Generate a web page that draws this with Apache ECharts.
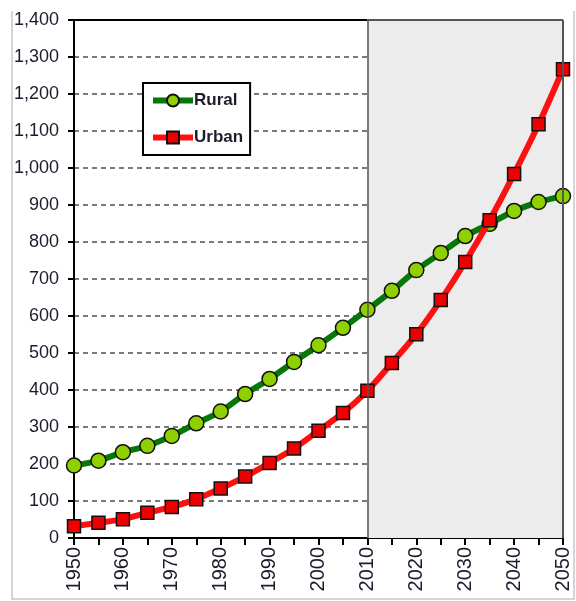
<!DOCTYPE html>
<html>
<head>
<meta charset="utf-8">
<script src="https://cdn.jsdelivr.net/npm/echarts@6/dist/echarts.min.js"></script>
<style>html,body{margin:0;padding:0;background:#fff;}#c{width:576px;height:601px;}</style>
</head>
<body>
<div id="c"></div>
<script>
const years = [1950,1955,1960,1965,1970,1975,1980,1985,1990,1995,2000,2005,2010,2015,2020,2025,2030,2035,2040,2045,2050];
const rural = [196,209,232,249,276,310,342,389,430,476,521,568,617,668,724,770,816,849,884,908,924];
const urban = [32,41,51,68,84,105,134,166,203,242,290,338,398,473,551,643,746,859,984,1118,1267];
const yTicks = [0,100,200,300,400,500,600,700,800,900,1000,1100,1200,1300,1400];
const projectionStart = 2010;
const projectionEnd = 2050;

const chart = echarts.init(document.getElementById('c'));
const font = 'Liberation Sans, Arial, sans-serif';
const txtColor = '#1c1c2c';

chart.setOption({
  animation: false,
  backgroundColor: '#fff',
  textStyle: {fontFamily: font},
  grid: {left: 74, right: 13, top: 20, bottom: 63, containLabel: false},
  legend: {
    orient: 'vertical',
    left: 143, top: 83,
    padding: [9, 7, 9, 7],
    itemGap: 20,
    itemWidth: 40, itemHeight: 15,
    backgroundColor: '#fff',
    borderColor: '#000', borderWidth: 2, borderRadius: 0,
    lineStyle: {width: 6},
    textStyle: {fontFamily: font, fontSize: 17, fontWeight: 'bold', color: txtColor, padding: [0,0,0,-4]},
    data: ['Rural', 'Urban']
  },
  xAxis: {
    type: 'value', min: 1950, max: 2050, interval: 5,
    axisLine: {show: true, lineStyle: {color: '#000', width: 2}},
    axisTick: {show: true, inside: false, length: 7, lineStyle: {color: '#000', width: 2}},
    axisLabel: {
      rotate: 90, fontSize: 20, color: txtColor, fontFamily: font, margin: 9,
      formatter: v => (v % 10 === 0 ? String(v) : '')
    },
    splitLine: {show: false}
  },
  yAxis: {
    type: 'value', min: yTicks[0], max: yTicks[yTicks.length-1], interval: 100,
    axisLine: {show: true, lineStyle: {color: '#000', width: 2}},
    axisTick: {show: true, length: 6, lineStyle: {color: '#000', width: 2}},
    axisLabel: {
      fontSize: 18, color: txtColor, fontFamily: font, margin: 15,
      formatter: v => v.toLocaleString('en-US')
    },
    splitLine: {show: true, lineStyle: {color: '#7a7a7a', width: 2, type: [5, 4]}}
  },
  series: [
    {
      name: 'shade', type: 'line', data: [], z: 0, silent: true,
      markArea: {
        silent: true,
        itemStyle: {color: '#ececec'},
        data: [[{coord: [projectionStart, 0]}, {coord: [projectionEnd, 1400]}]]
      }
    },
    {
      name: 'Rural', type: 'line', z: 3,
      data: years.map((y, i) => [y, rural[i]]),
      smooth: 0.3,
      lineStyle: {color: '#067806', width: 6},
      symbol: 'circle', symbolSize: 15,
      itemStyle: {color: '#8fd000', borderColor: '#111', borderWidth: 1.5}
    },
    {
      name: 'Urban', type: 'line', z: 4,
      data: years.map((y, i) => [y, urban[i]]),
      smooth: 0.3,
      lineStyle: {color: '#ff1010', width: 6},
      symbol: 'rect', symbolSize: 13,
      itemStyle: {color: '#ee0000', borderColor: '#111', borderWidth: 1.5}
    },
    {
      name: 'frame', type: 'line', data: [], z: 10, silent: true,
      markLine: {
        silent: true, symbol: 'none', label: {show: false},
        data: [
          [{coord: [1950, 1400], lineStyle: {color: '#000', width: 2, type: 'solid'}}, {coord: [projectionStart, 1400]}],
          [{coord: [projectionStart, 1400], lineStyle: {color: '#555', width: 2, type: 'solid'}}, {coord: [projectionEnd, 1400]}],
          [{coord: [projectionStart, 0], lineStyle: {color: '#555', width: 1.5, type: 'solid'}}, {coord: [projectionStart, 1400]}],
          [{coord: [projectionEnd, 0], lineStyle: {color: '#555', width: 2, type: 'solid'}}, {coord: [projectionEnd, 1400]}]
        ]
      }
    }
  ],
  graphic: [
    {type: 'polyline', shape: {points: [[12, 11], [12, 599], [574, 599], [574, 11]]}, style: {stroke: '#c8c8c8', lineWidth: 1.5, fill: null}, silent: true}
  ]
});
</script>
</body>
</html>
